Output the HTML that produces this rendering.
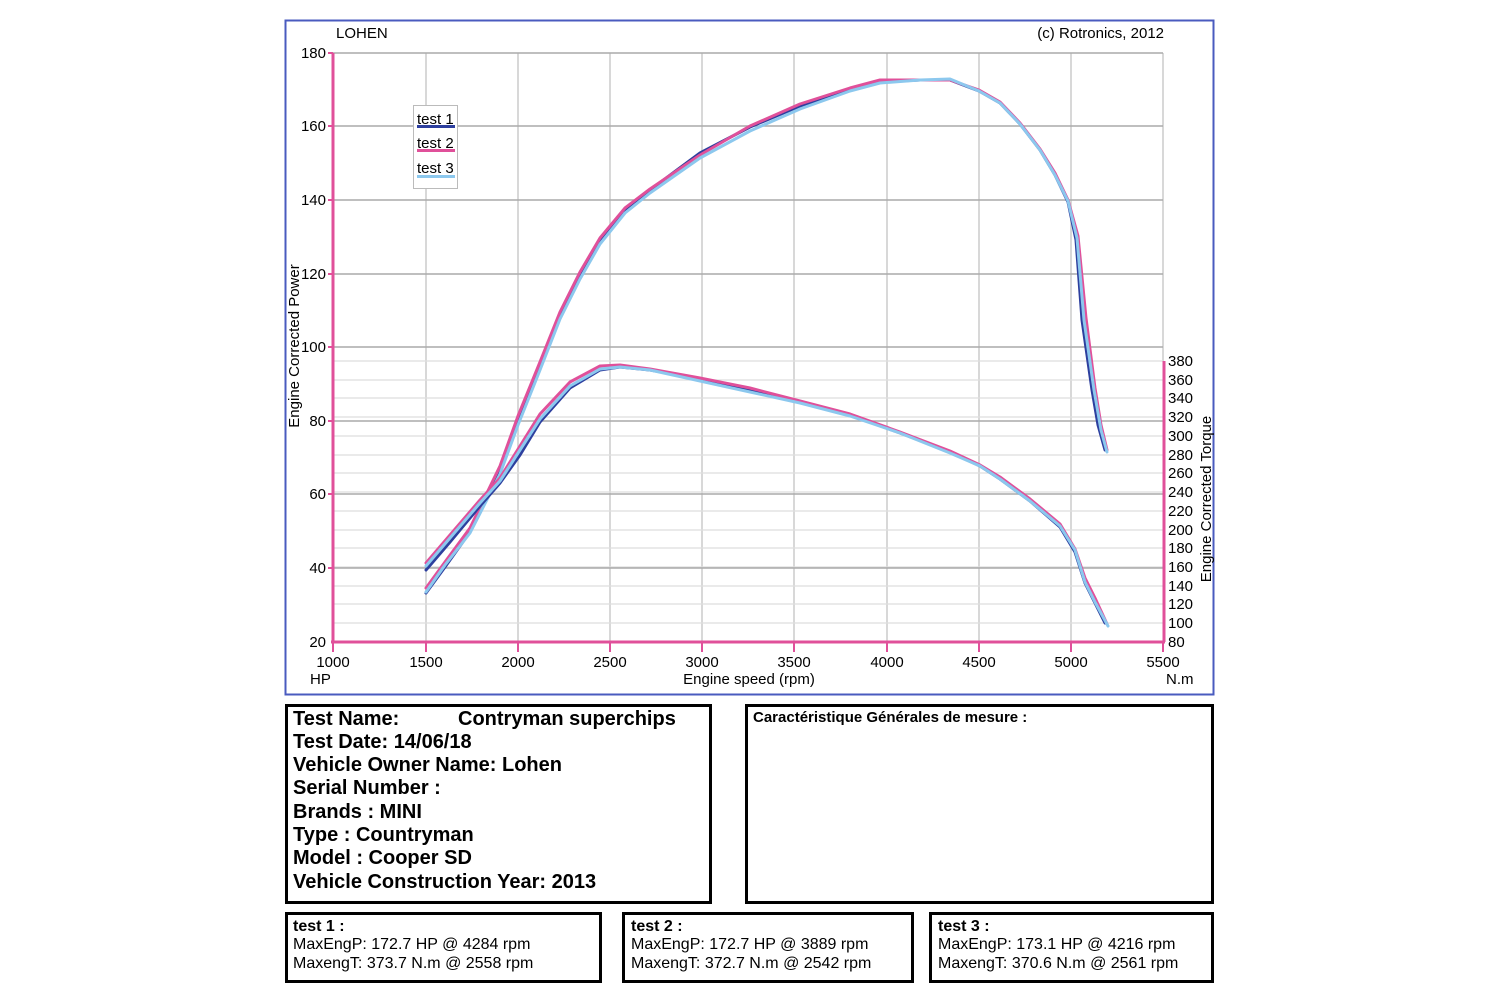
<!DOCTYPE html>
<html><head><meta charset="utf-8"><style>
html,body{margin:0;padding:0;background:#fff;}
svg{display:block;font-family:"Liberation Sans",sans-serif;}
</style></head><body>
<svg width="1500" height="1000" viewBox="0 0 1500 1000" xmlns="http://www.w3.org/2000/svg">
<rect x="285.5" y="20.5" width="928" height="674" fill="#fff" stroke="#4a5bbf" stroke-width="2"/>
<text x="336" y="38" font-size="15">LOHEN</text>
<text x="1164" y="38" font-size="15" text-anchor="end">(c) Rotronics, 2012</text>
<g stroke="#ccc" stroke-width="1.5">
<line x1="426" y1="53" x2="426" y2="642"/><line x1="518" y1="53" x2="518" y2="642"/>
<line x1="610" y1="53" x2="610" y2="642"/><line x1="702" y1="53" x2="702" y2="642"/>
<line x1="794" y1="53" x2="794" y2="642"/><line x1="887" y1="53" x2="887" y2="642"/>
<line x1="979" y1="53" x2="979" y2="642"/><line x1="1071" y1="53" x2="1071" y2="642"/>
<line x1="1163" y1="53" x2="1163" y2="361"/>
</g>
<g stroke="#ddd" stroke-width="1.2">
<line x1="333" y1="361" x2="1163" y2="361"/><line x1="333" y1="380" x2="1163" y2="380"/>
<line x1="333" y1="398" x2="1163" y2="398"/><line x1="333" y1="417" x2="1163" y2="417"/>
<line x1="333" y1="436" x2="1163" y2="436"/><line x1="333" y1="455" x2="1163" y2="455"/>
<line x1="333" y1="473" x2="1163" y2="473"/><line x1="333" y1="492" x2="1163" y2="492"/>
<line x1="333" y1="511" x2="1163" y2="511"/><line x1="333" y1="530" x2="1163" y2="530"/>
<line x1="333" y1="548" x2="1163" y2="548"/><line x1="333" y1="567" x2="1163" y2="567"/>
<line x1="333" y1="586" x2="1163" y2="586"/><line x1="333" y1="604" x2="1163" y2="604"/>
<line x1="333" y1="623" x2="1163" y2="623"/>
</g>
<g stroke="#aaa" stroke-width="1.5">
<line x1="333" y1="53" x2="1163" y2="53"/><line x1="333" y1="126" x2="1163" y2="126"/>
<line x1="333" y1="200" x2="1163" y2="200"/><line x1="333" y1="274" x2="1163" y2="274"/>
<line x1="333" y1="347" x2="1163" y2="347"/><line x1="333" y1="421" x2="1163" y2="421"/>
<line x1="333" y1="494" x2="1163" y2="494"/><line x1="333" y1="568" x2="1163" y2="568"/>
</g>
<g stroke="#e0509a" stroke-width="3">
<line x1="333" y1="53" x2="333" y2="642"/>
<line x1="331" y1="642" x2="1165" y2="642"/>
<line x1="1164" y1="361" x2="1164" y2="642"/>
</g>
<g stroke="#e0509a" stroke-width="2">
<line x1="328" y1="53" x2="333" y2="53"/><line x1="328" y1="126" x2="333" y2="126"/><line x1="328" y1="200" x2="333" y2="200"/><line x1="328" y1="274" x2="333" y2="274"/><line x1="328" y1="347" x2="333" y2="347"/><line x1="328" y1="421" x2="333" y2="421"/><line x1="328" y1="494" x2="333" y2="494"/><line x1="328" y1="568" x2="333" y2="568"/>
<line x1="426" y1="642" x2="426" y2="652"/><line x1="518" y1="642" x2="518" y2="652"/><line x1="610" y1="642" x2="610" y2="652"/><line x1="702" y1="642" x2="702" y2="652"/><line x1="794" y1="642" x2="794" y2="652"/><line x1="887" y1="642" x2="887" y2="652"/><line x1="979" y1="642" x2="979" y2="652"/><line x1="1071" y1="642" x2="1071" y2="652"/><line x1="333" y1="642" x2="333" y2="652"/><line x1="1163" y1="642" x2="1163" y2="652"/>
</g>
<g font-size="15" text-anchor="end">
<text x="326" y="58">180</text><text x="326" y="131">160</text><text x="326" y="205">140</text><text x="326" y="279">120</text><text x="326" y="352">100</text><text x="326" y="426">80</text><text x="326" y="499">60</text><text x="326" y="573">40</text><text x="326" y="647">20</text>
</g>
<g font-size="15">
<text x="1168" y="366">380</text><text x="1168" y="385">360</text><text x="1168" y="403">340</text><text x="1168" y="422">320</text><text x="1168" y="441">300</text><text x="1168" y="460">280</text><text x="1168" y="478">260</text><text x="1168" y="497">240</text><text x="1168" y="516">220</text><text x="1168" y="535">200</text><text x="1168" y="553">180</text><text x="1168" y="572">160</text><text x="1168" y="591">140</text><text x="1168" y="609">120</text><text x="1168" y="628">100</text><text x="1168" y="647">80</text>
</g>
<g font-size="15" text-anchor="middle">
<text x="333" y="667">1000</text><text x="426" y="667">1500</text><text x="518" y="667">2000</text><text x="610" y="667">2500</text><text x="702" y="667">3000</text><text x="794" y="667">3500</text><text x="887" y="667">4000</text><text x="979" y="667">4500</text><text x="1071" y="667">5000</text><text x="1163" y="667">5500</text>
<text x="749" y="684">Engine speed (rpm)</text>
</g>
<text x="310" y="684" font-size="15">HP</text>
<text x="1166" y="684" font-size="15">N.m</text>
<text transform="translate(299,346) rotate(-90)" font-size="15" text-anchor="middle">Engine Corrected Power</text>
<text transform="translate(1211,499) rotate(-90)" font-size="15" text-anchor="middle">Engine Corrected Torque</text>
<g fill="none" stroke-width="3" stroke-linejoin="round" stroke-linecap="round">
<polyline stroke="#2d3f9e" points="426,593 445,567 470,532 500,472 518,423 540,368 560,317 580,276 600,241 625,210 650,190 700,153 750,127 800,106 850,89 880,82 920,80 950,80 979,91 1000,103 1020,124 1040,150 1055,175 1068,202 1076,240 1082,320 1092,390 1098,425 1105,450"/>
<polyline stroke="#e0509a" points="426,588 445,562 470,528 500,466 518,416 540,362 560,312 580,272 600,238 625,208 650,189 700,155 750,126 800,104 850,88 880,80 920,80 950,80 979,90 1000,102 1020,123 1040,149 1055,173 1068,200 1078,236 1086,318 1095,388 1101,425 1107,450"/>
<polyline stroke="#8cc8ee" points="426,592 445,565 470,533 500,474 518,425 540,370 560,319 580,279 600,244 625,213 650,193 700,158 750,131 800,109 850,91 880,83 920,80 950,79 979,91 1000,103 1020,124 1040,150 1055,175 1068,201 1077,238 1084,320 1094,390 1101,430 1107,452"/>
<polyline stroke="#2d3f9e" points="426,570 450,542 480,506 500,483 520,455 540,422 570,388 600,370 620,367 650,370 700,379 750,390 800,402 850,415 900,433 950,452 980,466 1000,479 1030,501 1060,527 1075,552 1085,583 1095,603 1105,623"/>
<polyline stroke="#e0509a" points="426,563 450,535 480,500 500,478 520,446 540,414 570,382 600,366 620,365 650,369 700,378 750,388 800,401 850,414 900,432 950,451 980,465 1000,477 1030,499 1060,524 1075,549 1085,578 1095,598 1107,624"/>
<polyline stroke="#8cc8ee" points="426,566 450,538 480,503 500,481 520,450 540,419 570,386 600,369 620,367 650,370 700,381 750,392 800,403 850,416 900,433 950,453 980,466 1000,479 1030,501 1060,526 1075,550 1085,582 1095,602 1108,626"/>
</g>
<rect x="413.5" y="105.5" width="44" height="83" fill="#fff" stroke="#bbb" stroke-width="1"/>
<g font-size="15"><text x="417" y="124">test 1</text><text x="417" y="148">test 2</text><text x="417" y="173">test 3</text></g>
<line x1="417" y1="126.5" x2="455" y2="126.5" stroke="#2d3f9e" stroke-width="3"/>
<line x1="417" y1="150.5" x2="455" y2="150.5" stroke="#e0509a" stroke-width="3"/>
<line x1="417" y1="176.5" x2="455" y2="176.5" stroke="#8cc8ee" stroke-width="3"/>
<g fill="none" stroke="#000" stroke-width="3">
<rect x="286.5" y="705.5" width="424" height="197"/>
<rect x="746.5" y="705.5" width="466" height="197"/>
<rect x="286.5" y="913.5" width="314" height="68"/>
<rect x="623.5" y="913.5" width="289" height="68"/>
<rect x="930.5" y="913.5" width="282" height="68"/>
</g>
<g font-size="20" font-weight="bold">
<text x="293" y="725">Test Name:</text><text x="458" y="725">Contryman superchips</text>
<text x="293" y="748">Test Date: 14/06/18</text>
<text x="293" y="771">Vehicle Owner Name: Lohen</text>
<text x="293" y="794">Serial Number  :</text>
<text x="293" y="818">Brands  : MINI</text>
<text x="293" y="841">Type  : Countryman</text>
<text x="293" y="864">Model  : Cooper SD</text>
<text x="293" y="888">Vehicle Construction Year: 2013</text>
</g>
<text x="753" y="722" font-size="15" font-weight="bold">Caractéristique Générales de mesure :</text>
<g font-size="16">
<text x="293" y="931" font-weight="bold">test 1 :</text>
<text x="293" y="949">MaxEngP: 172.7 HP @ 4284 rpm</text>
<text x="293" y="968">MaxengT: 373.7 N.m @ 2558 rpm</text>
<text x="631" y="931" font-weight="bold">test 2 :</text>
<text x="631" y="949">MaxEngP: 172.7 HP @ 3889 rpm</text>
<text x="631" y="968">MaxengT: 372.7 N.m @ 2542 rpm</text>
<text x="938" y="931" font-weight="bold">test 3 :</text>
<text x="938" y="949">MaxEngP: 173.1 HP @ 4216 rpm</text>
<text x="938" y="968">MaxengT: 370.6 N.m @ 2561 rpm</text>
</g>
</svg>
</body></html>
